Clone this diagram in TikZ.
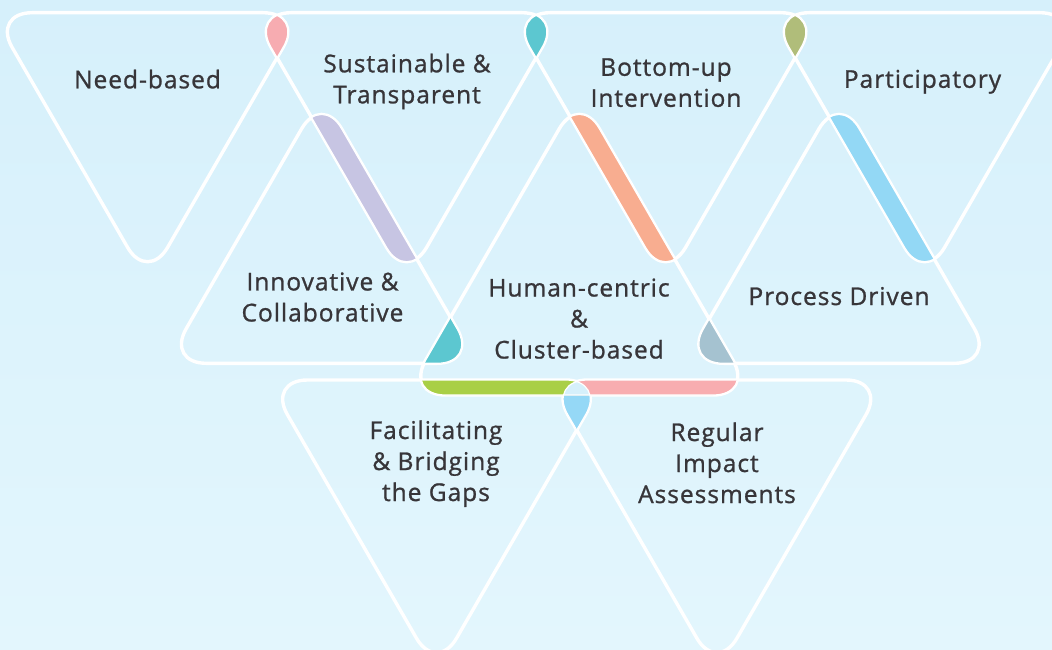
\documentclass[tikz,border=0pt]{standalone}
\usepackage{fontspec}
\setmainfont{Open Sans}[LetterSpace=4, FakeBold=1]
\definecolor{bgTop}{RGB}{214,240,251}
\definecolor{bgBot}{RGB}{227,246,253}
\definecolor{txt}{RGB}{55,53,57}
\definecolor{cPink}{RGB}{247,172,177}
\definecolor{cTeal}{RGB}{92,199,208}
\definecolor{cOlive}{RGB}{176,189,122}
\definecolor{cPurple}{RGB}{199,197,227}
\definecolor{cOrange}{RGB}{248,173,144}
\definecolor{cBlue}{RGB}{147,216,245}
\definecolor{cSlate}{RGB}{165,194,208}
\definecolor{cGreen}{RGB}{169,207,70}
\definecolor{cRose}{RGB}{248,173,176}
\definecolor{cSky}{RGB}{149,216,246}
\newcommand{\dnpath}[3]{(#1,#2) -- ({#1+#3},#2) -- (#1,{#2+1.7320508*#3}) -- ({#1-#3},#2) -- cycle}
\newcommand{\uppath}[3]{(#1,#2) -- ({#1-#3},#2) -- (#1,{#2-1.7320508*#3}) -- ({#1+#3},#2) -- cycle}
\def\TriA{\dnpath{147.6}{12.7}{155.5}}
\def\TriB{\dnpath{406.6}{12.7}{155.5}}
\def\TriC{\dnpath{665.6}{12.7}{155.5}}
\def\TriD{\dnpath{924.6}{12.7}{155.5}}
\def\TriE{\uppath{321.6}{363.3}{155.4}}
\def\TriF{\uppath{579.3}{395}{173.75}}
\def\TriG{\uppath{839}{363.3}{155.4}}
\def\TriH{\dnpath{436.5}{380}{169.1}}
\def\TriI{\dnpath{716.9}{380}{169.1}}
\tikzset{
  rc/.style={rounded corners=40pt},
  outl/.style={draw=white, line width=3.4pt, rc},
  thin/.style={draw=white, line width=1.2pt, rc},
  lbl/.style={text=txt, align=center, inner sep=0pt, font=\fontsize{24.5}{31}\selectfont},
}
\begin{document}
\begin{tikzpicture}[x=1pt,y=-1pt]
\useasboundingbox (0,0) rectangle (1052,650);
\clip (0,0) rectangle (1052,650);
\shade[top color=bgTop, middle color=bgTop, bottom color=bgBot] (0,0) rectangle (1052,650);
% outlines
\draw[outl] \TriA; \draw[outl] \TriB; \draw[outl] \TriC; \draw[outl] \TriD;
\draw[outl] \TriE; \draw[outl] \TriF; \draw[outl] \TriG;
\draw[outl] \TriH; \draw[outl] \TriI;
% overlaps
\begin{scope}\clip[rc] \TriA; \fill[cPink, rc] \TriB; \end{scope}
\begin{scope}\clip[rc] \TriB; \fill[cTeal, rc] \TriC; \end{scope}
\begin{scope}\clip[rc] \TriC; \fill[cOlive, rc] \TriD; \end{scope}
\begin{scope}\clip[rc] \TriB; \fill[cPurple, rc] \TriE; \end{scope}
\begin{scope}\clip[rc] \TriC; \fill[cOrange, rc] \TriF; \end{scope}
\begin{scope}\clip[rc] \TriD; \fill[cBlue, rc] \TriG; \end{scope}
\begin{scope}\clip[rc] \TriE; \fill[cTeal, rc] \TriF; \end{scope}
\begin{scope}\clip[rc] \TriF; \fill[cSlate, rc] \TriG; \end{scope}
\begin{scope}\clip[rc] \TriH; \fill[cSky, rc] \TriI; \end{scope}
\begin{scope}\clip[rc] \TriF; \fill[cGreen, rc] \TriH; \end{scope}
\begin{scope}\clip[rc] \TriF; \fill[cRose, rc] \TriI; \end{scope}
\begin{scope}\clip[rc] \TriF; \clip[rc] \TriH; \fill[bgTop, rc] \TriI; \end{scope}
% thin outlines on top
\draw[thin] \TriA; \draw[thin] \TriB; \draw[thin] \TriC; \draw[thin] \TriD;
\draw[thin] \TriE; \draw[thin] \TriF; \draw[thin] \TriG;
\draw[thin] \TriH; \draw[thin] \TriI;
% labels
\node[lbl] (n1) at (147.5,82.1) {\strut Need-based};
\node[lbl] (n2) at (407,81.6) {\strut Sustainable \&\\Transparent\strut};
\node[lbl] (n3) at (666,85.1) {\strut Bottom-up\\Intervention\strut};
\node[lbl] (n4) at (922.5,81.6) {\strut Participatory};
\node[lbl] (n5) at (322.5,299.7) {\strut Innovative \&\\Collaborative\strut};
\node[lbl] (n6) at (579,321.3) {\strut Human-centric\\\&\\Cluster-based\strut};
\node[lbl] (n7) at (839,298.8) {\strut Process Driven};
\node[lbl] (n8) at (436,463.8) {\strut Facilitating\\\& Bridging\\the Gaps\strut};
\node[lbl] (n9) at (717,465.8) {\strut Regular\\Impact\\Assessments\strut};
\end{tikzpicture}
\end{document}
